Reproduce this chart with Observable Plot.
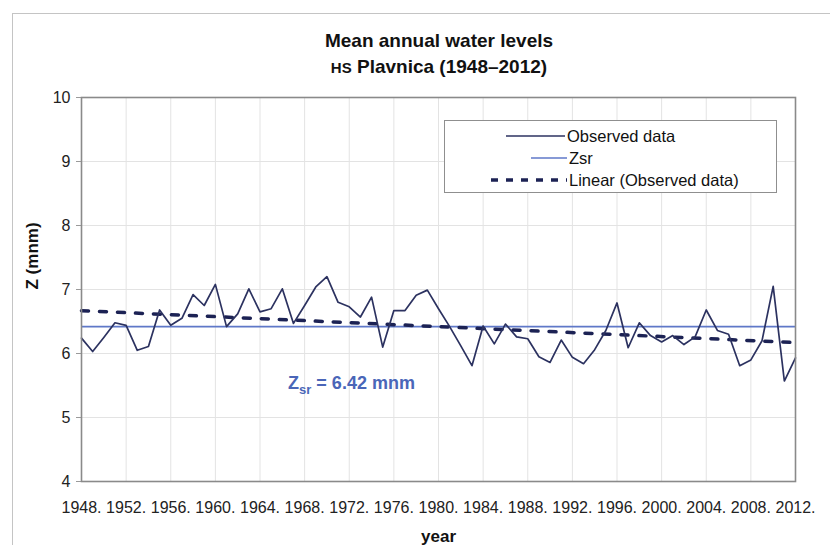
<!DOCTYPE html>
<html><head><meta charset="utf-8">
<script src="https://cdn.jsdelivr.net/npm/d3@7"></script>
<script src="https://cdn.jsdelivr.net/npm/@observablehq/plot@0.6"></script>
<style>
body{margin:0;background:#fff;font-family:"Liberation Sans",Arial,sans-serif;color:#111}
#wrap{position:relative;width:830px;height:545px;overflow:hidden}
#frame{position:absolute;left:12px;top:13px;width:900px;height:600px;border-left:1.5px solid #c4c4c4;border-top:1.5px solid #c4c4c4}
#chart{position:absolute;left:0;top:0}
.ttl{position:absolute;left:239px;width:400px;text-align:center;font-weight:bold;font-size:19px;line-height:22px}
#legend{position:absolute;left:444px;top:120px;width:333px;height:73px;border:1px solid #8f8f8f;background:#fff;box-sizing:border-box}
.row{position:absolute;left:0;height:22px;width:333px}
.row svg{position:absolute;top:0;left:0}
.row span{position:absolute;font-size:16.5px;line-height:22px;top:0}
</style></head>
<body>
<div id="wrap">
  <div id="frame"></div>
  <div id="chart"></div>
  <div class="ttl" id="t1" style="top:30px"></div>
  <div class="ttl" id="t2" style="top:56px"></div>
  <div id="legend"></div>
</div>
<script>
// ---- data ----
const years = [1948,1949,1950,1951,1952,1953,1954,1955,1956,1957,
  1958,1959,1960,1961,1962,1963,1964,1965,1966,1967,
  1968,1969,1970,1971,1972,1973,1974,1975,1976,1977,
  1978,1979,1980,1981,1982,1983,1984,1985,1986,1987,
  1988,1989,1990,1991,1992,1993,1994,1995,1996,1997,
  1998,1999,2000,2001,2002,2003,2004,2005,2006,2007,
  2008,2009,2010,2011,2012];
const levels = [6.24,6.03,6.25,6.48,6.44,6.05,6.11,6.68,6.44,6.55,
  6.92,6.75,7.08,6.42,6.62,7.01,6.65,6.70,7.01,6.47,
  6.75,7.04,7.20,6.80,6.73,6.57,6.88,6.10,6.67,6.67,
  6.91,6.99,6.70,6.42,6.12,5.81,6.43,6.15,6.46,6.26,
  6.23,5.95,5.86,6.21,5.94,5.84,6.06,6.36,6.79,6.09,
  6.48,6.28,6.18,6.28,6.14,6.26,6.68,6.36,6.30,5.81,
  5.90,6.20,7.05,5.57,5.93];
const zsr = 6.42;
const xTicks = [1948,1952,1956,1960,1964,1968,1972,1976,1980,1984,1988,1992,1996,2000,2004,2008,2012];
const yTicks = [4,5,6,7,8,9,10];
const titleText = "Mean annual water levels";
const subtitlePrefix = "HS";
const subtitleText = " Plavnica (1948–2012)";
const legendLabels = ["Observed data","Zsr","Linear (Observed data)"];
const annotation = {year: 1972.2, z: 5.53, text: "Zsr = 6.42 mnm"};

const rows = years.map((y, i) => ({year: y, z: levels[i]}));

const colObs = "#2c3260", colZsr = "#5f78c8", colTrend = "#1c2254", colAnn = "#4a66b8";
const font = "Liberation Sans, Arial, sans-serif";

const chart = Plot.plot({
  width: 830, height: 545,
  marginLeft: 81, marginRight: 35, marginTop: 97, marginBottom: 64,
  style: {fontFamily: font, fontSize: "16px", color: "#222", background: "transparent", overflow: "visible"},
  x: {domain: [1948, 2012]},
  y: {domain: [4, 10]},
  marks: [
    Plot.gridY(yTicks, {stroke: "#e3e3e3", strokeOpacity: 1}),
    Plot.gridX(xTicks, {stroke: "#e3e3e3", strokeOpacity: 1}),
    Plot.axisY(yTicks, {tickSize: 5, tickPadding: 6, stroke: "#9a9a9a", tickFormat: d => String(d), fontSize: 16, label: null, fill: "#222"}),
    Plot.axisX(xTicks, {tickSize: 0, tickPadding: 20, tickFormat: d => d + ".", fontSize: 16, label: null, fill: "#222"}),
    Plot.ruleY([zsr], {stroke: colZsr, strokeWidth: 1.6}),
    Plot.linearRegressionY(rows, {x: "year", y: "z", ci: 0, stroke: colTrend, strokeWidth: 3.5, strokeDasharray: "7,11"}),
    Plot.line(rows, {x: "year", y: "z", stroke: colObs, strokeWidth: 1.7}),
    Plot.frame({stroke: "#8a8a8a", strokeWidth: 1.6}),
    Plot.text([annotation], {x: "year", y: "z", text: "text", fill: colAnn, fontWeight: "bold", fontSize: 18, textAnchor: "middle"}),
    Plot.text(["Z (mnm)"], {frameAnchor: "left", rotate: -90, dx: -49, fontWeight: "bold", fontSize: 17, fill: "#111"}),
    Plot.text(["year"], {frameAnchor: "bottom", dy: 60, fontWeight: "bold", fontSize: 17, fill: "#111"})
  ]
});
document.getElementById("chart").appendChild(chart);

// subscript in annotation
const ns = "http://www.w3.org/2000/svg";
const at = [...chart.querySelectorAll("text")].find(e => e.textContent === annotation.text);
if (at) {
  at.textContent = "";
  const parts = [["Z", null], ["sr", "sub"], [" = 6.42 mnm", null]];
  for (const [s, kind] of parts) {
    const ts = document.createElementNS(ns, "tspan");
    ts.textContent = s;
    if (kind === "sub") { ts.setAttribute("font-size", "13"); ts.setAttribute("dy", "5"); }
    else if (s !== "Z") { ts.setAttribute("dy", "-5"); }
    at.appendChild(ts);
  }
}

// titles
document.getElementById("t1").textContent = titleText;
const t2 = document.getElementById("t2");
const hs = document.createElement("span"); hs.textContent = subtitlePrefix; hs.style.fontSize = "15px";
t2.appendChild(hs); t2.appendChild(document.createTextNode(subtitleText));

// legend
const lg = document.getElementById("legend");
const samples = [
  {x1: 61, x2: 120, color: colObs, width: 1.7, dash: null, tx: 122},
  {x1: 86, x2: 122, color: colZsr, width: 1.6, dash: null, tx: 124},
  {x1: 46, x2: 122, color: colTrend, width: 3.5, dash: "7,8", tx: 124}
];
legendLabels.forEach((lab, i) => {
  const r = document.createElement("div"); r.className = "row"; r.style.top = (4 + i * 22) + "px";
  const s = samples[i];
  r.innerHTML = `<svg width="333" height="22"><line x1="${s.x1}" x2="${s.x2}" y1="11" y2="11" stroke="${s.color}" stroke-width="${s.width}" ${s.dash ? `stroke-dasharray="${s.dash}"` : ""}/></svg>`;
  const sp = document.createElement("span"); sp.textContent = lab; sp.style.left = s.tx + "px";
  r.appendChild(sp); lg.appendChild(r);
});
</script>
</body></html>
